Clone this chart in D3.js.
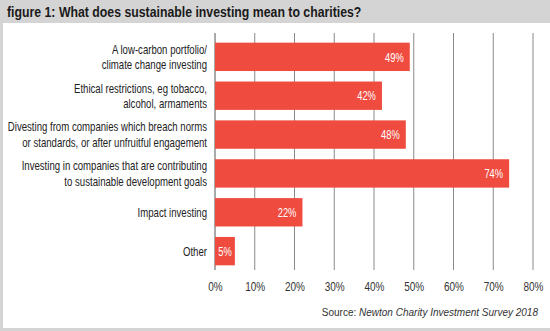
<!DOCTYPE html>
<html>
<head>
<meta charset="utf-8">
<script src="https://d3js.org/d3.v7.min.js"></script>
<style>
body { margin: 0; background: #d4d4d4; }
svg { display: block; }
.cat { font-family: "Liberation Sans", Arial, sans-serif; font-size: 13px; fill: #222; }
.val { font-family: "Liberation Sans", Arial, sans-serif; font-size: 13px; fill: #fff; }
.tick text { font-family: "Liberation Sans", Arial, sans-serif; font-size: 12.5px; fill: #333; }
</style>
</head>
<body>
<div id="chart"></div>
<script>
// survey answers, one line per label row
var categories = [
  ["A low-carbon portfolio/", "climate change investing"],
  ["Ethical restrictions, eg tobacco,", "alcohol, armaments"],
  ["Divesting from companies which breach norms", "or standards, or after unfruitful engagement"],
  ["Investing in companies that are contributing", "to sustainable development goals"],
  ["Impact investing"],
  ["Other"]
];
var shares = [49, 42, 48, 74, 22, 5];
var ticks = [0, 10, 20, 30, 40, 50, 60, 70, 80];

var width = 550, height = 331;

// squeeze text horizontally around its anchor point x0
function squeeze(x0, k) {
  return "translate(" + x0 + ",0) scale(" + k + ",1) translate(" + (-x0) + ",0)";
}

var svg = d3.select("#chart").append("svg")
    .attr("width", width)
    .attr("height", height);

// white panel under the heading strip
svg.append("rect")
    .attr("x", 3).attr("y", 23)
    .attr("width", 547).attr("height", 305)
    .attr("fill", "#fff");

svg.append("text")
    .attr("x", 7).attr("y", 17)
    .attr("transform", squeeze(7, 0.82))
    .attr("font-family", "'Liberation Sans', Arial, sans-serif")
    .attr("font-weight", "bold")
    .attr("font-size", "15px")
    .attr("fill", "#1a1a1a")
    .text("figure 1: What does sustainable investing mean to charities?");

var x = d3.scaleLinear().domain([0, 80]).range([215, 533]);
var y = d3.scaleBand()
    .domain(d3.range(shares.length))
    .range([38, 270])
    .paddingInner(0.27)
    .paddingOuter(0.12);

// vertical grid
svg.append("g")
  .selectAll("line")
  .data(ticks)
  .join("line")
    .attr("x1", d => x(d)).attr("x2", d => x(d))
    .attr("y1", 33).attr("y2", 270)
    .attr("stroke", d => d === 0 ? "#555" : "#8a8a8a")
    .attr("stroke-width", 1);

svg.append("g")
    .attr("transform", "translate(0,278)")
    .call(d3.axisBottom(x).tickValues(ticks).tickFormat(d => d + "%").tickSize(0).tickPadding(4))
    .call(g => g.select(".domain").remove())
    .call(g => g.selectAll(".tick text").attr("transform", "scale(0.8,1)"));

svg.append("g")
  .selectAll("rect")
  .data(shares)
  .join("rect")
    .attr("x", x(0))
    .attr("y", (d, i) => y(i))
    .attr("width", d => x(d) - x(0))
    .attr("height", y.bandwidth())
    .attr("fill", "#ef4b3f");

// value labels sit at the bar end, or centred when the bar is short
var short = d => x(d) - x(0) < 30;
var valX = d => short(d) ? (x(0) + x(d)) / 2 : x(d) - 6;

svg.append("g")
  .selectAll("text")
  .data(shares)
  .join("text")
    .attr("class", "val")
    .attr("x", valX)
    .attr("y", (d, i) => y(i) + y.bandwidth() / 2)
    .attr("dy", "0.36em")
    .attr("text-anchor", d => short(d) ? "middle" : "end")
    .attr("transform", d => squeeze(valX(d), 0.72))
    .text(d => d + "%");

var labels = svg.append("g")
  .selectAll("text")
  .data(categories)
  .join("text")
    .attr("class", "cat")
    .attr("text-anchor", "end")
    .attr("y", (d, i) => y(i) + y.bandwidth() / 2)
    .attr("transform", squeeze(207, 0.74));

labels.selectAll("tspan")
  .data(d => d.map((t, k) => ({t: t, k: k, n: d.length})))
  .join("tspan")
    .attr("x", 207)
    .attr("dy", d => d.k === 0 ? (0.36 - (d.n - 1) * 0.6) + "em" : "1.2em")
    .text(d => d.t);

var src = svg.append("text")
    .attr("x", 538).attr("y", 316)
    .attr("text-anchor", "end")
    .attr("font-family", "'Liberation Sans', Arial, sans-serif")
    .attr("font-size", "10px")
    .attr("fill", "#333");
src.append("tspan").text("Source: ");
src.append("tspan").attr("font-style", "italic").text("Newton Charity Investment Survey 2018");
</script>
</body>
</html>
